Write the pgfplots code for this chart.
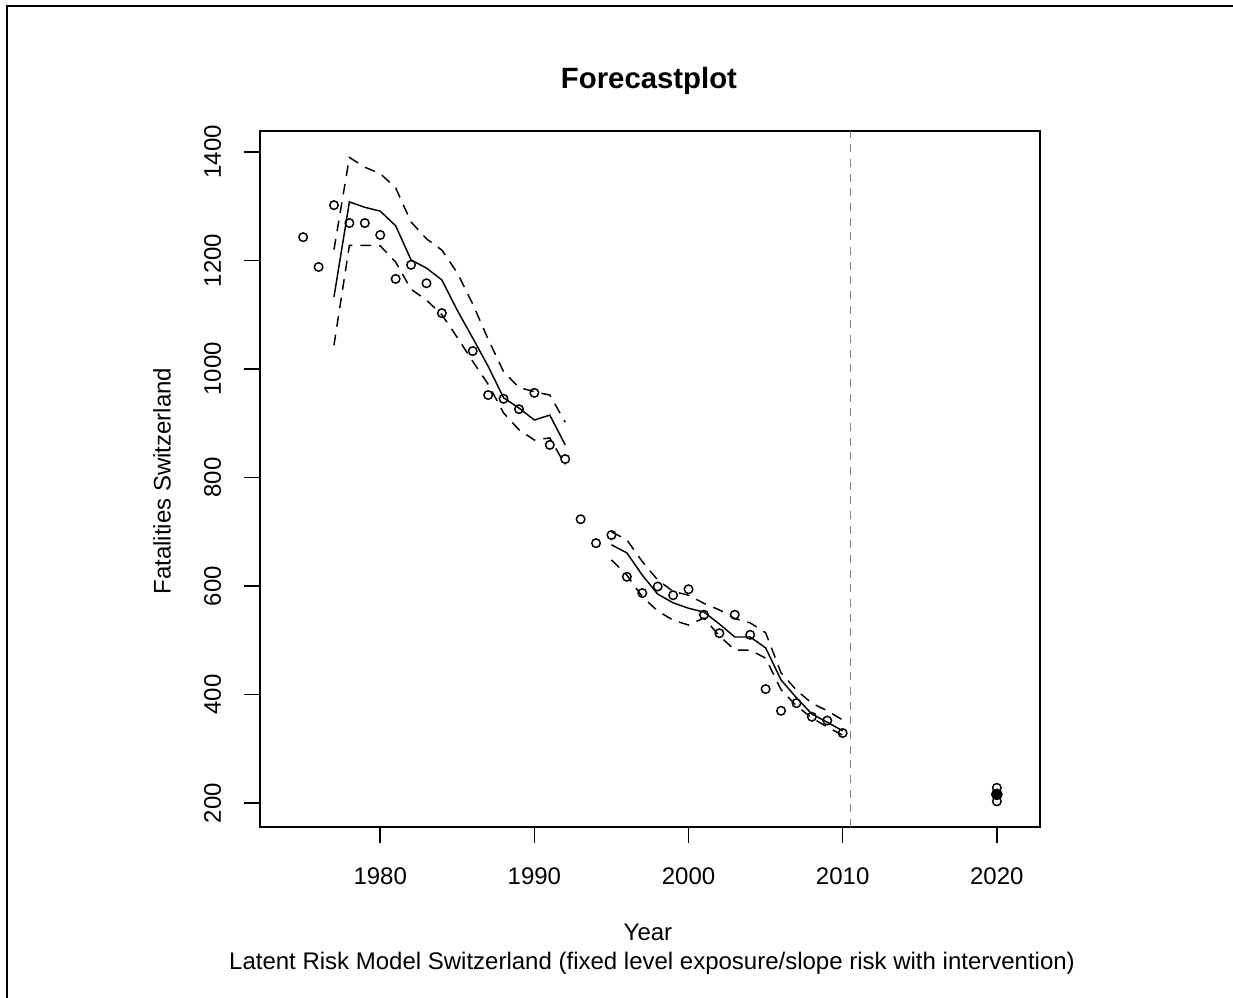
\documentclass[border=0pt]{standalone}
\usepackage{pgfplots}
\usepackage{pgfplotstable}
\pgfplotsset{compat=1.18}
\usepackage{fontspec}
\setmainfont{Liberation Sans}

\pgfplotstableread{
year obs
1975 1243
1976 1188
1977 1302
1978 1269
1979 1269
1980 1247
1981 1166
1982 1192
1983 1158
1984 1103
1986 1033
1987 952
1988 945
1989 926
1990 956
1991 860
1992 834
1993 723
1994 679
1995 694
1996 617
1997 587
1998 599
1999 583
2000 594
2001 547
2002 513
2003 547
2004 510
2005 410
2006 370
2007 384
2008 359
2009 352
2010 329
}\obsdata

\pgfplotstableread{
year fit up lo
1977 1133 1220 1044
1978 1308 1390 1228
1979 1298 1372 1228
1980 1291 1360 1227
1981 1264 1334 1197
1982 1201 1271 1147
1983 1186 1240 1127
1984 1164 1219 1100
1985 1108 1177 1058
1986 1057 1120 1014
1987 1005 1055 972
1988 947 995 919
1989 928 966 888
1990 906 958 869
1991 915 952 873
1992 860 902 823
1993 nan nan nan
1995 676 700 648
1996 661 685 620
1997 620 645 580
1998 585 611 554
1999 569 590 537
2000 559 583 528
2001 552 568 541
2002 530 556 508
2003 506 540 482
2004 506 532 482
2005 486 514 467
2006 427 440 409
2007 394 408 379
2008 364 384 357
2009 349 370 340
2010 333 353 325
}\fitdata

\begin{document}
\begin{tikzpicture}
\useasboundingbox (0,0) rectangle (924.75pt,748.5pt);
\draw[line width=1.5pt] (5.25pt,0) -- (5.25pt,744pt) -- (924.75pt,744pt);
\begin{axis}[
  at={(195pt,128.25pt)}, anchor=south west,
  scale only axis, width=585pt, height=522pt,
  xmin=1972.2, xmax=2022.8, ymin=155.8, ymax=1438.7,
  axis line style={line width=1.2pt},
  every tick/.style={black, line width=1.2pt},
  tick align=outside, tick pos=left, major tick length=12pt,
  xtick={1980,1990,2000,2010,2020}, ytick={200,400,600,800,1000,1200,1400},
  /pgf/number format/assume math mode=true,
  /pgf/number format/1000 sep={},
  ticklabel style={font=\fontsize{18}{20}\selectfont},
  xticklabel style={anchor=north, inner sep=0pt, yshift=-18.5pt},
  yticklabel style={rotate=90, anchor=south, inner sep=0pt, yshift=17pt},
  unbounded coords=jump,
  clip=false,
]
\addplot[only marks, mark=o, mark size=3.2pt, line width=1.1pt, black] table[x=year, y=obs] {\obsdata};
\addplot[black, line width=1.1pt, mark=none] table[x=year, y=fit] {\fitdata};
\addplot[black, line width=1.1pt, mark=none, dash pattern=on 8pt off 6pt] table[x=year, y=up] {\fitdata};
\addplot[black, line width=1.1pt, mark=none, dash pattern=on 8pt off 6pt] table[x=year, y=lo] {\fitdata};
\addplot[gray, line width=0.9pt, mark=none, dash pattern=on 6pt off 5pt] coordinates {(2010.5,155.8) (2010.5,1438.7)};
\addplot[only marks, mark=o, mark size=3.2pt, line width=1.1pt, black] coordinates {(2020,228) (2020,203)};
\addplot[only marks, mark=*, mark size=4.2pt, black] coordinates {(2020,216)};
\node[font=\bfseries\fontsize{22}{24}\selectfont, anchor=base] at (axis description cs:0.4987,1.0617) {Forecastplot};
\node[font=\fontsize{18}{20}\selectfont, anchor=center] at (axis description cs:0.4974,-0.1509) {Year};
\node[font=\fontsize{18}{20}\selectfont, anchor=center] at (axis description cs:0.5026,-0.1960) {Latent Risk Model Switzerland (fixed level exposure/slope risk with intervention)};
\node[font=\fontsize{18}{20}\selectfont, anchor=center, rotate=90] at (axis description cs:-0.1256,0.4971) {Fatalities Switzerland};
\end{axis}
\end{tikzpicture}
\end{document}
